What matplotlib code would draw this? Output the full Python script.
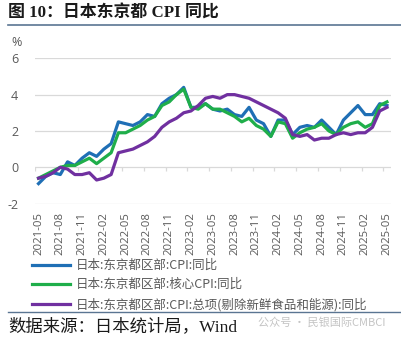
import numpy as np
import pandas as pd
import matplotlib
matplotlib.use('Agg')
import matplotlib.pyplot as plt
from matplotlib.lines import Line2D

plt.rcParams['font.family'] = ['Noto Sans CJK SC', 'DejaVu Sans']

# Monthly YoY, %, Tokyo ward-area CPI
months = pd.period_range('2021-05', '2025-05', freq='M').strftime('%Y-%m').tolist()

cpi_headline = [
    -0.9, -0.5, -0.3, -0.4, 0.3, 0.1, 0.5, 0.8,
    0.6, 1.0, 1.3, 2.5, 2.4, 2.3, 2.5, 2.9, 2.8, 3.5, 3.8, 4.0,
    4.4, 3.3, 3.3, 3.5, 3.2, 3.1, 3.2, 2.9, 2.8, 3.3, 2.6, 2.4,
    1.7, 2.6, 2.6, 1.8, 2.2, 2.3, 2.2, 2.6, 2.2, 1.8, 2.6, 3.0,
    3.4, 2.9, 2.9, 3.5, 3.4,
]
cpi_core = [
    -0.6, -0.4, -0.2, 0.0, 0.1, 0.1, 0.3, 0.5,
    0.2, 0.5, 0.8, 1.9, 1.9, 2.1, 2.3, 2.6, 2.8, 3.4, 3.6, 4.0,
    4.3, 3.3, 3.2, 3.5, 3.2, 3.2, 3.0, 2.8, 2.5, 2.7, 2.3, 2.1,
    1.7, 2.5, 2.4, 1.6, 1.9, 2.1, 2.2, 2.4, 2.0, 1.8, 2.2, 2.4,
    2.5, 2.2, 2.4, 3.4, 3.6,
]
cpi_core_core = [
    -0.6, -0.5, -0.3, 0.0, -0.1, -0.4, -0.4, -0.3,
    -0.7, -0.6, -0.4, 0.8, 0.9, 1.0, 1.2, 1.4, 1.7, 2.2, 2.5, 2.7,
    3.0, 3.1, 3.4, 3.8, 3.9, 3.8, 4.0, 4.0, 3.9, 3.8, 3.6, 3.4,
    3.2, 3.0, 2.7, 1.8, 1.7, 1.8, 1.5, 1.6, 1.6, 1.8, 1.9, 1.8,
    1.9, 1.9, 2.2, 3.1, 3.3,
]

series_labels = [
    '日本:东京都区部:CPI:同比',
    '日本:东京都区部:核心CPI:同比',
    '日本:东京都区部:CPI:总项(剔除新鲜食品和能源):同比',
]
series_colors = ['#1f6fb5', '#1fae4a', '#7030a0']
y_ticks = [-2, 0, 2, 4, 6]

W, H = 401, 338
fig = plt.figure(figsize=(W / 100, H / 100), dpi=100)


def px(x, y):
    """pixel (from top-left) -> figure fraction"""
    return x / W, 1 - y / H


# title and rule lines
fig.text(*px(8, 14), '图 10：日本东京都 CPI 同比', fontsize=12.2, fontweight='bold',
         family=['Liberation Serif', 'Noto Sans CJK SC'], color='#1a1a1a',
         ha='left', va='center')
fig.add_artist(Line2D([0.02, 1.0], [1 - 25 / H] * 2, color='#5a7592', lw=1.2))
fig.add_artist(Line2D([0.02, 1.0], [1 - 312 / H] * 2, color='#5a7592', lw=1.0))
fig.text(*px(8, 327), '数据来源：日本统计局，Wind', fontsize=12.5,
         family=['Liberation Serif', 'Noto Sans CJK SC'], color='#1a1a1a',
         ha='left', va='center')
fig.text(*px(258, 323), '公众号 · 民银国际CMBCI', fontsize=8, color='#c4c4c4',
         ha='left', va='center')

# plot area
left, top = px(34.9, 58.3)
right, bottom = px(390.6, 203.6)
ax = fig.add_axes([left, bottom, right - left, top - bottom])

x = np.arange(len(months))
handles = []
for vals, lab, col in zip([cpi_headline, cpi_core, cpi_core_core], series_labels, series_colors):
    h, = ax.plot(x, vals, color=col, lw=2.3, label=lab, solid_joinstyle='round', zorder=3)
    handles.append(h)

ax.set_xlim(-0.5, len(months) - 0.5)
ax.set_ylim(-2, 6)
ax.set_yticks(y_ticks)
ax.set_yticklabels([str(v) for v in y_ticks], family='Open Sans', fontsize=9, color='#595959')
ax.yaxis.grid(True, color='#d9d9d9', lw=0.9)
ax.set_axisbelow(True)
for s in ax.spines.values():
    s.set_visible(False)
ax.tick_params(axis='y', length=0, pad=12)

ax.set_xticks(x[::3])
ax.set_xticklabels(months[::3], rotation=90, family='Open Sans', fontsize=8.2,
                   color='#595959')
ax.tick_params(axis='x', length=0, pad=6)

# category tick marks on the zero line
ax.vlines(np.arange(-0.5, len(months), 3), -0.2, 0, color='#d9d9d9', lw=0.9, zorder=1)

fig.text(*px(17, 42), '%', family='Open Sans', fontsize=9, color='#595959',
         ha='center', va='center')

fig.legend(handles=handles, loc='upper left', bbox_to_anchor=px(32, 259),
           frameon=False, fontsize=9, handlelength=3.0, handletextpad=0.5,
           labelspacing=0.5, borderaxespad=0, borderpad=0,
           labelcolor='#595959')

fig.savefig('out.png', dpi=100)
